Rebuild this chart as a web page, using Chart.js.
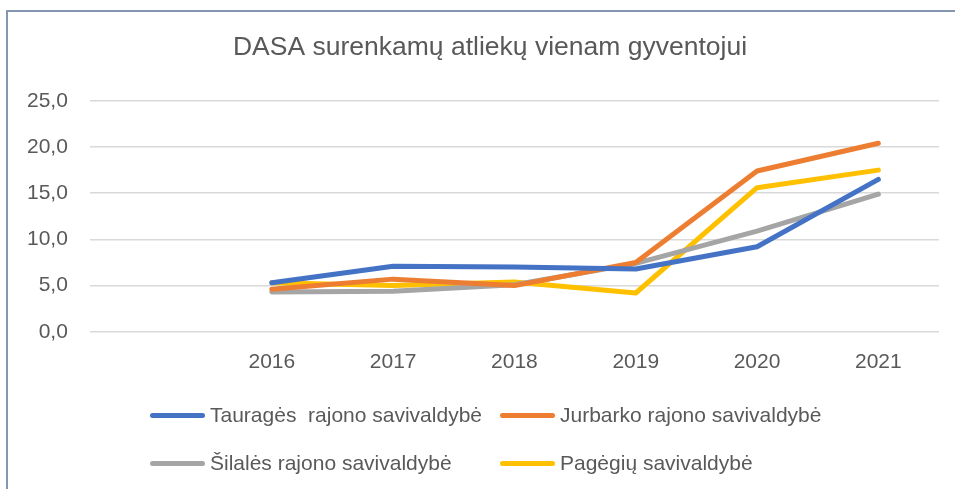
<!DOCTYPE html>
<html>
<head>
<meta charset="utf-8">
<script src="https://cdn.jsdelivr.net/npm/chart.js@4"></script>
<style>
    body { margin: 0; background: #fff; font-family: "Liberation Sans", Arial, sans-serif; }
    .wrap { position: relative; width: 955px; height: 489px; overflow: hidden; }
    .frame { position: absolute; left: 6px; top: 10px; right: -5px; bottom: -5px;
             border-top: 2px solid #8497b0; border-left: 2px solid #8497b0; }
    canvas { position: absolute; left: 0; top: 0; }
    .legend { position: absolute; left: 150px; top: 403px; width: 720px; }
    .item { position: absolute; display: flex; align-items: center; font-size: 21px; color: #595959; white-space: pre; }
    .item span.sw { display: inline-block; width: 55px; height: 5px; border-radius: 3px; margin-right: 5px; }
</style>
</head>
<body>
<div class="wrap">
    <div class="frame"></div>
    <canvas id="mainChart" width="955" height="489"></canvas>
    <div class="legend" id="legend"></div>
</div>
<script>
const years = ['', '2016', '2017', '2018', '2019', '2020', '2021'];
const taurages = [null, 5.3, 7.1, 7.0, 6.8, 9.2, 16.5];
const jurbarko = [null, 4.6, 5.7, 5.0, 7.5, 17.4, 20.4];
const silales = [null, 4.3, 4.4, 5.1, 7.4, 10.9, 14.9];
const pagegiu = [null, 5.3, 5.0, 5.4, 4.2, 15.6, 17.5];
const names = ['Tauragės  rajono savivaldybė', 'Jurbarko rajono savivaldybė', 'Šilalės rajono savivaldybė', 'Pagėgių savivaldybė'];
const colors = ['#4472c4', '#ed7d31', '#a5a5a5', '#ffc000'];
const yTicks = [0, 5, 10, 15, 20, 25];

const series = [taurages, jurbarko, silales, pagegiu];
const font = "'Liberation Sans', Arial, sans-serif";

// the title in the original is centred a bit right of the canvas middle
const shiftTitle = {
    id: 'shiftTitle',
    afterLayout(chart) {
        if (chart.titleBlock) chart.titleBlock.left += 36;
    }
};

new Chart(document.getElementById('mainChart'), {
    type: 'line',
    data: {
        labels: years,
        datasets: series.map((s, i) => ({
            label: names[i],
            data: s,
            borderColor: colors[i],
            backgroundColor: colors[i],
            borderWidth: 5,
            borderCapStyle: 'round',
            borderJoinStyle: 'round',
            pointRadius: 0,
            tension: 0
        }))
    },
    plugins: [shiftTitle],
    options: {
        responsive: false,
        animation: false,
        layout: { padding: { left: 5, right: 16, top: 0, bottom: 96 } },
        plugins: {
            legend: { display: false },
            tooltip: { enabled: false },
            title: {
                display: true,
                text: 'DASA surenkamų atliekų vienam gyventojui',
                color: '#595959',
                font: { family: font, size: 26.5, weight: 'normal' },
                padding: { top: 32, bottom: 37 }
            }
        },
        scales: {
            x: {
                offset: true,
                grid: { display: false, drawTicks: false },
                border: { display: false },
                ticks: { color: '#595959', font: { family: font, size: 21 }, padding: 18, maxRotation: 0 }
            },
            y: {
                min: yTicks[0],
                max: yTicks[yTicks.length - 1],
                afterBuildTicks: (axis) => { axis.ticks = yTicks.map(v => ({ value: v })); },
                grid: { color: '#d9d9d9', lineWidth: 1.5, drawTicks: false },
                border: { display: false },
                ticks: {
                    color: '#595959',
                    font: { family: font, size: 21 },
                    padding: 22,
                    callback: (v) => v.toFixed(1).replace('.', ',')
                }
            }
        }
    }
});

// legend laid out in two fixed columns like the original
const pos = [[0, 0], [350, 0], [0, 48], [350, 48]];
const $legend = document.getElementById('legend');
names.forEach((n, i) => {
    const el = document.createElement('div');
    el.className = 'item';
    el.style.left = pos[i][0] + 'px';
    el.style.top = pos[i][1] + 'px';
    el.innerHTML = `<span class="sw" style="background:${colors[i]}"></span>`;
    el.appendChild(document.createTextNode(n));
    $legend.appendChild(el);
});
</script>
</body>
</html>
